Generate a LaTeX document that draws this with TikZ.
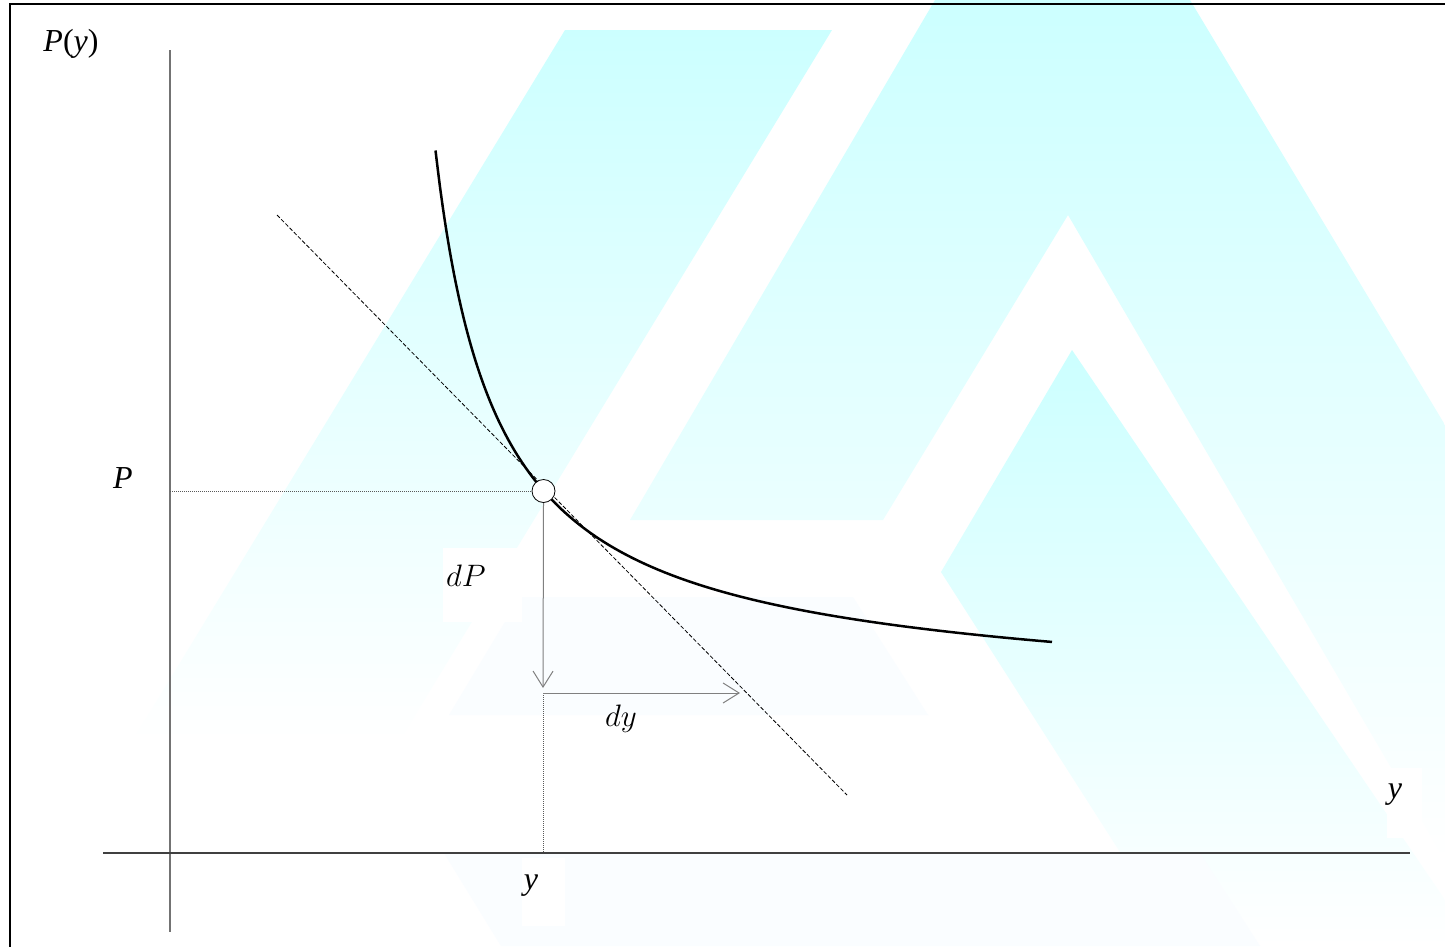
\RequirePackage{fix-cm}
\documentclass[tikz,border=0pt]{standalone}
\usepackage{fontspec}
\newfontfamily\tnr{Liberation Serif}
\usetikzlibrary{arrows.meta}
\tikzset{
  wm/.style={top color=cyan!20, bottom color=white, draw=none},
  wmfaint/.style={fill=cyan!2, draw=none},
  whitebox/.style={fill=white, draw=none, inner sep=0pt, anchor=north west},
  frameline/.style={line width=2bp, black},
  yaxis/.style={line width=1.3bp, black!55},
  xaxis/.style={line width=1.3bp, black!75},
  curve/.style={line width=2.5bp, black},
  tangent/.style={line width=0.8bp, black, dash pattern=on 4bp off 2bp},
  guide/.style={line width=0.8bp, black!65, dash pattern=on 1bp off 1bp},
  diffarrow/.style={line width=1bp, black!50, -{Straight Barb[length=16bp,width=20bp]}},
  tlab/.style={font=\fontsize{32bp}{38bp}\selectfont\tnr, inner sep=0pt},
  mlab/.style={font=\fontsize{31bp}{37bp}\selectfont, inner sep=0pt},
  ptmark/.style={circle, minimum size=23bp, inner sep=0pt, fill=white, draw=black, line width=0.8bp}
}
\begin{document}
\begin{tikzpicture}[x=1bp, y=-1bp]
\useasboundingbox (0,0) rectangle (1445,946);
\fill[white] (0,0) rectangle (1445,946);
% watermark background
\shade[wm] (565,30) -- (832,30) -- (400,740) -- (133,740) -- cycle;
\shade[wm] (935,0) -- (1190,0) -- (1445,425) -- (1445,860) -- (1068,215) -- (883,520) -- (630,520) -- cycle;
\shade[wm] (1072,350) -- (941,572) -- (1180,946) -- (1445,946) -- (1445,900) -- cycle;
\fill[wmfaint] (520,597) -- (853,597) -- (928,715) -- (449,715) -- cycle;
\fill[wmfaint] (444,853) -- (1200,853) -- (1260,946) -- (501,946) -- cycle;
% frame
\draw[frameline] (10,960) -- (10,4) -- (1460,4);
% white label boxes
\node[whitebox, minimum width=79bp, minimum height=74bp] (dPbox) at (443,548) {};
\node[whitebox, minimum width=43bp, minimum height=68bp] (ybox) at (522,858) {};
\node[whitebox, minimum width=35bp, minimum height=70bp] (yrbox) at (1387,768) {};
% coordinates
\coordinate (ytop) at (170,50);
\coordinate (ybot) at (170,932);
\coordinate (xl) at (103,853);
\coordinate (xr) at (1410,853);
\coordinate (t1) at (277,215);
\coordinate (t2) at (847,795);
\coordinate (corner) at (543,693);
\coordinate (dpend) at (543,688);
\coordinate (dyend) at (740,693);
\coordinate (yfoot) at (543,853);
\coordinate (pfoot) at (170,491);
\node[circle, minimum size=23bp, inner sep=0pt] (pt) at (543.5,491) {};
% axes
\draw[yaxis] (ytop) -- (ybot);
\draw[xaxis] (xl) -- (xr);
% guides
\draw[guide] (pfoot) -- (pt.west);
\draw[guide] (corner) -- (yfoot);
% tangent
\draw[tangent] (t1) -- (t2);
% curve
\draw[curve] plot[domain=435.5:1052, samples=140, smooth] (\x, {682.1 - 323.81/((\x-374.4)/100) + 0.015*(\x-543)});
% differentials
\draw[diffarrow] (pt.south) -- (dpend);
\draw[diffarrow] (corner) -- (dyend);
\node[ptmark] (ptdot) at (pt) {};
% labels
\node[tlab] (Py) at (71,44) {\itshape P\upshape(\itshape y\upshape)};
\node[tlab] (Plab) at (123,478) {\itshape P};
\node[tlab] (ylab) at (531,886) {\itshape y};
\node[tlab] (yright) at (1395,795) {\itshape y};
\node[mlab] (dPlab) at (466,576) {$dP$};
\node[mlab] (dylab) at (621,719) {$dy$};
\end{tikzpicture}
\end{document}
